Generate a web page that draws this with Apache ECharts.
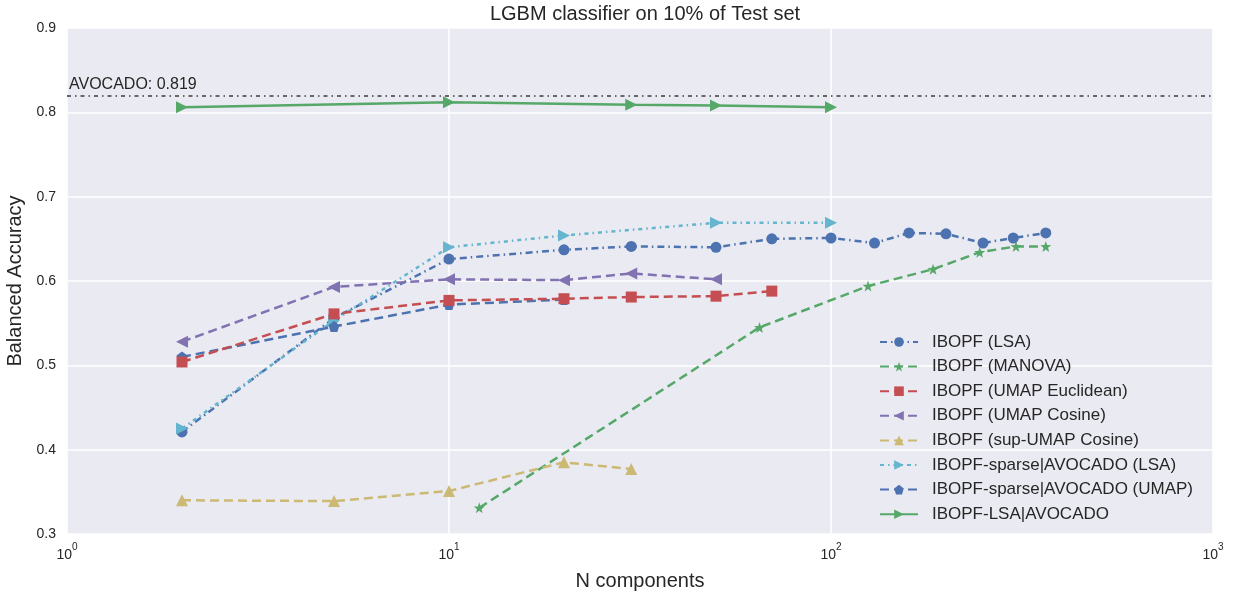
<!DOCTYPE html>
<html>
<head>
<meta charset="utf-8">
<script src="https://cdn.jsdelivr.net/npm/echarts@6/dist/echarts.min.js"></script>
<style>
  html, body { margin: 0; padding: 0; background: #fff; }
  #chart { width: 1238px; height: 597px; }
</style>
</head>
<body>
<div id="chart"></div>
<script>
// Balanced accuracy vs. number of components (log scale)
const nLsa = [2, 5, 10, 20, 30, 50, 70, 100, 130, 160, 200, 250, 300, 365];
const accLsa = [0.421, 0.556, 0.626, 0.637, 0.641, 0.640, 0.650, 0.651, 0.645, 0.657, 0.656, 0.645, 0.651, 0.657];

const nManova = [12, 65, 125, 185, 245, 305, 365];
const accManova = [0.331, 0.545, 0.594, 0.614, 0.634, 0.641, 0.641];

const nUmapEuc = [2, 5, 10, 20, 30, 50, 70];
const accUmapEuc = [0.504, 0.561, 0.577, 0.579, 0.581, 0.582, 0.588];

const nUmapCos = [2, 5, 10, 20, 30, 50];
const accUmapCos = [0.528, 0.593, 0.602, 0.601, 0.609, 0.602];

const nSupUmap = [2, 5, 10, 20, 30];
const accSupUmap = [0.340, 0.339, 0.351, 0.385, 0.377];

const nSparseLsa = [2, 5, 10, 20, 50, 100];
const accSparseLsa = [0.425, 0.553, 0.640, 0.654, 0.669, 0.669];

const nSparseUmap = [2, 5, 10, 20];
const accSparseUmap = [0.510, 0.546, 0.572, 0.578];

const nLsaAvocado = [2, 10, 30, 50, 100];
const accLsaAvocado = [0.806, 0.812, 0.809, 0.808, 0.806];

const avocadoScore = 0.819;

const yTicks = [0.3, 0.4, 0.5, 0.6, 0.7, 0.8, 0.9];

const FONT = "'Liberation Sans', Arial, sans-serif";
const TEXT = '#262626';
const STAR = 'path://M0,-10 L2.35,-3.24 L9.51,-3.09 L3.8,1.24 L5.88,8.09 L0,4 L-5.88,8.09 L-3.8,1.24 L-9.51,-3.09 L-2.35,-3.24 Z';
const PENTAGON = 'path://M0,-10 L9.51,-3.09 L5.88,8.09 L-5.88,8.09 L-9.51,-3.09 Z';

function pairs(xs, ys) { return xs.map((x, i) => [x, ys[i]]); }

function makeSeries(name, xs, ys, color, symbol, size, dash, extra) {
  return Object.assign({
    name: name,
    type: 'line',
    data: pairs(xs, ys),
    symbol: symbol,
    symbolSize: size,
    showAllSymbol: true,
    itemStyle: { color: color },
    lineStyle: { color: color, width: 2.5, type: dash },
    emphasis: { disabled: true },
    animation: false
  }, extra || {});
}

const series = [
  makeSeries('IBOPF (LSA)', nLsa, accLsa, '#4C72B0', 'circle', 11, [7, 4, 1.5, 4], { z: 2 }),
  makeSeries('IBOPF (MANOVA)', nManova, accManova, '#55A868', STAR, 11, [9, 5], { z: 2 }),
  makeSeries('IBOPF (UMAP Euclidean)', nUmapEuc, accUmapEuc, '#C44E52', 'rect', 11, [9, 5], { z: 4 }),
  makeSeries('IBOPF (UMAP Cosine)', nUmapCos, accUmapCos, '#8172B2', 'triangle', 12, [9, 5], { z: 2, symbolRotate: 90 }),
  makeSeries('IBOPF (sup-UMAP Cosine)', nSupUmap, accSupUmap, '#CCB974', 'triangle', 12, [9, 5], { z: 2 }),
  makeSeries('IBOPF-sparse|AVOCADO (LSA)', nSparseLsa, accSparseLsa, '#64B5CD', 'triangle', 12, [4, 4, 1.5, 4], { z: 2, symbolRotate: -90 }),
  makeSeries('IBOPF-sparse|AVOCADO (UMAP)', nSparseUmap, accSparseUmap, '#4C72B0', PENTAGON, 11, [9, 5], { z: 3 }),
  makeSeries('IBOPF-LSA|AVOCADO', nLsaAvocado, accLsaAvocado, '#55A868', 'triangle', 12, 'solid', {
    z: 3,
    symbolRotate: -90,
    markLine: {
      silent: true,
      symbol: 'none',
      animation: false,
      lineStyle: { color: '#666', width: 2, type: [4, 4, 1.5, 4] },
      label: {
        show: true,
        position: 'insideStartTop',
        formatter: 'AVOCADO: ' + avocadoScore.toFixed(3),
        color: TEXT,
        fontFamily: FONT,
        fontSize: 16,
        distance: [2, 3]
      },
      data: [{ yAxis: avocadoScore }]
    }
  })
];

const chart = echarts.init(document.getElementById('chart'), null, { renderer: 'canvas' });
chart.setOption({
  backgroundColor: '#ffffff',
  animation: false,
  title: {
    text: 'LGBM classifier on 10% of Test set',
    left: 640,
    top: -1,
    textAlign: 'center',
    textStyle: { fontFamily: FONT, fontSize: 20, fontWeight: 'normal', color: TEXT }
  },
  grid: {
    left: 67, right: 25, top: 28, bottom: 63,
    containLabel: false,
    outerBoundsMode: 'none',
    show: true, backgroundColor: '#EAEAF2', borderWidth: 0
  },
  legend: {
    orient: 'vertical',
    left: 874,
    top: 328,
    itemWidth: 38,
    itemHeight: 12,
    itemGap: 6.6,
    textStyle: { fontFamily: FONT, fontSize: 17, color: TEXT, lineHeight: 18, padding: [0, 0, 0, 9] },
    data: series.map(s => s.name)
  },
  xAxis: {
    type: 'log',
    logBase: 10,
    min: 1,
    max: 1000,
    name: 'N components',
    nameLocation: 'middle',
    nameGap: 37,
    nameTextStyle: { fontFamily: FONT, fontSize: 20, color: TEXT },
    axisLine: { show: false },
    axisTick: { show: false },
    minorTick: { show: false },
    minorSplitLine: { show: false },
    splitLine: { show: true, lineStyle: { color: '#ffffff', width: 1.5 } },
    axisLabel: {
      margin: 8,
      formatter: function (v) {
        const e = Math.round(Math.log10(v));
        return '{b|10}{s|' + e + '}';
      },
      rich: {
        b: { fontFamily: FONT, fontSize: 14, color: TEXT, lineHeight: 20, verticalAlign: 'bottom' },
        s: { fontFamily: FONT, fontSize: 10, color: TEXT, lineHeight: 20, verticalAlign: 'top' }
      }
    }
  },
  yAxis: {
    type: 'value',
    min: yTicks[0],
    max: yTicks[yTicks.length - 1],
    interval: 0.1,
    name: 'Balanced Accuracy',
    nameLocation: 'middle',
    nameGap: 37,
    nameTextStyle: { fontFamily: FONT, fontSize: 20, color: TEXT },
    axisLine: { show: false },
    axisTick: { show: false },
    splitLine: { show: true, lineStyle: { color: '#ffffff', width: 1.5 } },
    axisLabel: {
      margin: 11,
      fontFamily: FONT,
      fontSize: 14,
      color: TEXT,
      formatter: v => v.toFixed(1)
    }
  },
  series: series
});
</script>
</body>
</html>
